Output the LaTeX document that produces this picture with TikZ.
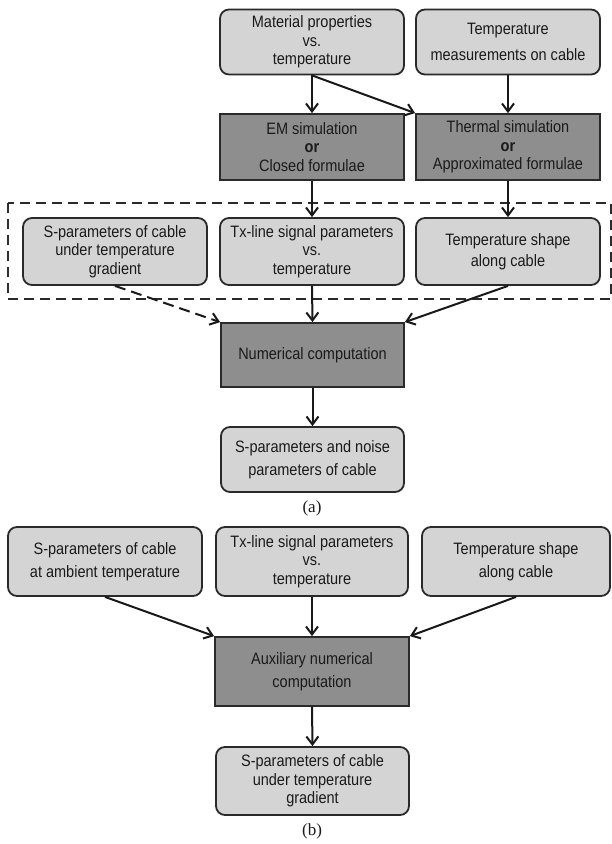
\documentclass[tikz,border=0pt]{standalone}
\usepackage{fontspec}
\setmainfont[FakeStretch=0.88]{Liberation Sans}
\newfontfamily\capfont{Liberation Serif}
\usetikzlibrary{arrows.meta}
\definecolor{lightbox}{HTML}{D4D4D4}
\definecolor{darkbox}{HTML}{8E8E8E}
\definecolor{edgecol}{HTML}{2A2A2A}
\definecolor{txtcol}{HTML}{1A1A1A}
\begin{document}
\begin{tikzpicture}[x=1pt,y=-1pt,
  lbox/.style={draw=edgecol, line width=1.8pt, fill=lightbox, rounded corners=9pt,
    minimum width=184pt, minimum height=66pt, inner sep=0pt, align=center,
    font=\fontsize{16.5}{18.5}\selectfont, text=txtcol},
  dbox/.style={lbox, fill=darkbox, rounded corners=0pt},
  arr/.style={-{Straight Barb[length=8pt,width=12pt]}, line width=2pt, draw=black!90},
  dasharr/.style={arr, dash pattern=on 11pt off 6pt},
  framebox/.style={draw=edgecol, line width=1.8pt, dash pattern=on 10pt off 6pt},
  caption/.style={font=\capfont\fontsize{17}{19}\selectfont, text=txtcol}
]
\useasboundingbox (0,0) rectangle (612,844);
\fill[white] (0,0) rectangle (612,844);

% ---------- (a) ----------
\draw[framebox] (8,203) rectangle (611,299);

\node[lbox, minimum height=65pt] (mat) at (312,42) {Material properties\\vs.\\temperature};
\node[lbox, minimum height=65pt] (meas) at (508,42) {Temperature\\[7pt]measurements on cable};
\node[dbox] (em) at (312,147) {EM simulation\\\textbf{or}\\Closed formulae};
\node[dbox] (therm) at (508,147) {Thermal simulation\\\textbf{or}\\Approximated formulae};
\node[lbox, minimum height=67pt] (spa) at (115,251.5) {S-parameters of cable\\under temperature\\gradient};
\node[lbox, minimum height=67pt] (txa) at (312,251.5) {Tx-line signal parameters\\vs.\\temperature};
\node[lbox, minimum height=67pt] (tsa) at (508,251.5) {Temperature shape\\[2pt]along cable};
\node[dbox, minimum width=183pt, minimum height=64pt] (num) at (312.5,355) {Numerical computation};
\node[lbox, minimum width=183pt, minimum height=65pt] (outa) at (312.5,459.5) {S-parameters and noise\\[4pt]parameters of cable};
\node[caption] (capa) at (312,508) {(a)};

\draw[arr] (mat.south) -- (em.north);
\draw[arr] (mat.south) -- (therm.north west);
\draw[arr] (meas.south) -- (therm.north);
\draw[arr] (em.south) -- (txa.north);
\draw[arr] (therm.south) -- (tsa.north);
\draw[dasharr] (spa.south) -- (num.north west);
\draw[arr] (txa.south) -- (num.north);
\draw[arr] (tsa.south) -- (num.north east);
\draw[arr] (num.south) -- (outa.north);

% ---------- (b) ----------
\node[lbox, minimum width=194pt, minimum height=69pt] (spb) at (105,561.5) {S-parameters of cable\\[5pt]at ambient temperature};
\node[lbox, minimum width=192pt, minimum height=69pt] (txb) at (312,561.5) {Tx-line signal parameters\\vs.\\temperature};
\node[lbox, minimum width=188pt, minimum height=69pt] (tsb) at (516,561.5) {Temperature shape\\[5pt]along cable};
\node[dbox, minimum width=194pt, minimum height=69pt] (aux) at (312,671.5) {Auxiliary numerical\\[5pt]computation};
\node[lbox, minimum width=193pt, minimum height=68pt] (outb) at (312.5,781) {S-parameters of cable\\under temperature\\gradient};
\node[caption] (capb) at (312,831) {(b)};

\draw[arr] (spb.south) -- (aux.north west);
\draw[arr] (txb.south) -- (aux.north);
\draw[arr] (tsb.south) -- (aux.north east);
\draw[arr] (aux.south) -- (outb.north);
\end{tikzpicture}
\end{document}
